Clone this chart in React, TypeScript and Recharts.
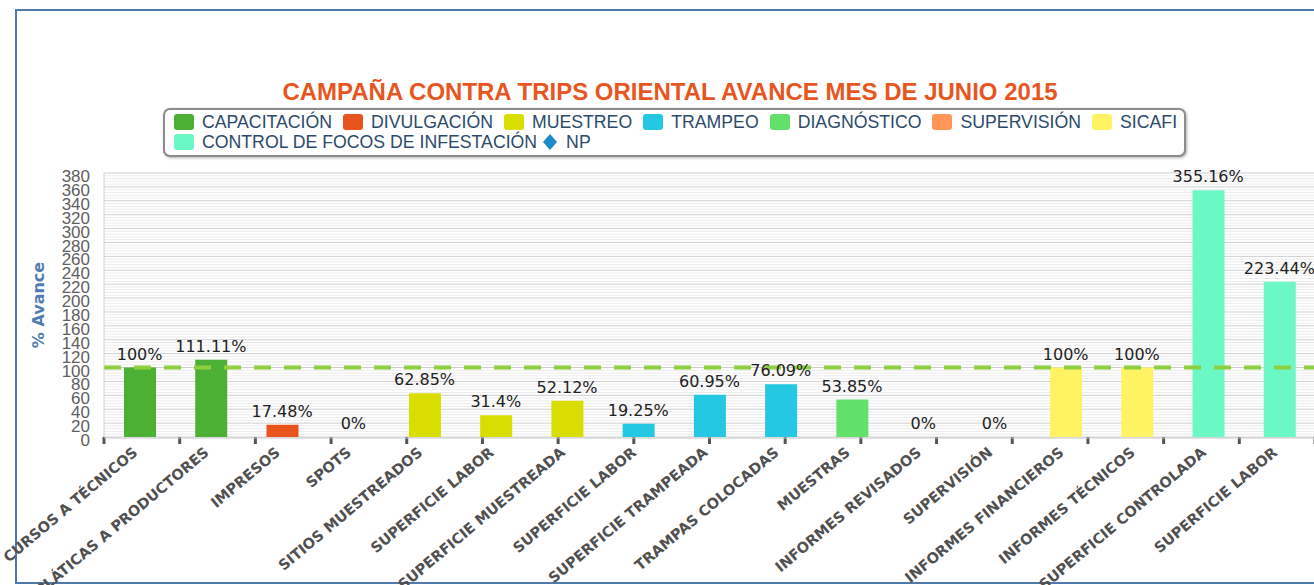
import * as React from "react"
import {
  ComposedChart,
  Bar,
  Line,
  Cell,
  XAxis,
  YAxis,
  CartesianGrid,
  ReferenceLine,
  LabelList,
} from "recharts"

const categories = [
  "CURSOS A TÉCNICOS",
  "PLÁTICAS A PRODUCTORES",
  "IMPRESOS",
  "SPOTS",
  "SITIOS MUESTREADOS",
  "SUPERFICIE LABOR",
  "SUPERFICIE MUESTREADA",
  "SUPERFICIE LABOR",
  "SUPERFICIE TRAMPEADA",
  "TRAMPAS COLOCADAS",
  "MUESTRAS",
  "INFORMES REVISADOS",
  "SUPERVISIÓN",
  "INFORMES FINANCIEROS",
  "INFORMES TÉCNICOS",
  "SUPERFICIE CONTROLADA",
  "SUPERFICIE LABOR",
]

const avance = [
  100, 111.11, 17.48, 0, 62.85, 31.4, 52.12, 19.25, 60.95, 76.09, 53.85, 0, 0,
  100, 100, 355.16, 223.44,
]

const programa = [
  "CAPACITACIÓN",
  "CAPACITACIÓN",
  "DIVULGACIÓN",
  "DIVULGACIÓN",
  "MUESTREO",
  "MUESTREO",
  "MUESTREO",
  "TRAMPEO",
  "TRAMPEO",
  "TRAMPEO",
  "DIAGNÓSTICO",
  "SUPERVISIÓN",
  "SUPERVISIÓN",
  "SICAFI",
  "SICAFI",
  "CONTROL DE FOCOS DE INFESTACIÓN",
  "CONTROL DE FOCOS DE INFESTACIÓN",
]

const legendRow1 = [
  "CAPACITACIÓN",
  "DIVULGACIÓN",
  "MUESTREO",
  "TRAMPEO",
  "DIAGNÓSTICO",
  "SUPERVISIÓN",
  "SICAFI",
]
const legendRow2 = ["CONTROL DE FOCOS DE INFESTACIÓN"]

const colors: Record<string, string> = {
  "CAPACITACIÓN": "#4cb034",
  "DIVULGACIÓN": "#e9531c",
  "MUESTREO": "#dadd00",
  "TRAMPEO": "#24c8e2",
  "DIAGNÓSTICO": "#62e06a",
  "SUPERVISIÓN": "#ff9655",
  "SICAFI": "#fff263",
  "CONTROL DE FOCOS DE INFESTACIÓN": "#6cf8c5",
}

const yTicks = [
  0, 20, 40, 60, 80, 100, 120, 140, 160, 180, 200, 220, 240, 260, 280, 300, 320,
  340, 360, 380,
]
// minor grid every 4 units, category edges for the tick marks
const minorTicks = Array.from({ length: 96 }, (_, i) => i * 4).filter(
  (v) => v % 20 !== 0
)
const edgeTicks = Array.from({ length: 18 }, (_, i) => i)

const data = categories.map((name, i) => ({
  name,
  value: avance[i],
  group: programa[i],
}))

const CategoryTick = (props: any) => {
  const { x, y, payload } = props
  const tx = x - 1
  const ty = y + 8
  return (
    <text
      x={tx}
      y={ty}
      transform={`rotate(-40, ${tx}, ${ty})`}
      textAnchor="end"
      fill="#505050"
      fontSize={14.5}
      fontWeight="bold"
      fontFamily="DejaVu Sans"
    >
      {payload.value}
    </text>
  )
}

const NoLabel = () => <g />

const LegendItem = ({ label, color }: { label: string; color: string }) => (
  <div style={{ display: "flex", alignItems: "center", marginRight: 11 }}>
    <div
      style={{
        width: 20,
        height: 16,
        borderRadius: 3,
        background: color,
        marginRight: 8,
      }}
    />
    <span>{label}</span>
  </div>
)

export default function App() {
  return (
    <div
      style={{
        position: "absolute",
        left: 0,
        top: 0,
        width: 1314,
        height: 585,
        overflow: "hidden",
        background: "#fff",
      }}
    >
      <div
        style={{
          position: "absolute",
          left: 15,
          top: 9,
          width: 1400,
          height: 575,
          border: "2px solid #4f79aa",
          boxSizing: "border-box",
        }}
      />
      <div
        style={{
          position: "absolute",
          left: 0,
          top: 79,
          width: 1340,
          textAlign: "center",
          fontFamily: "Liberation Sans",
          fontWeight: "bold",
          fontSize: 24,
          lineHeight: "25px",
          color: "#e8561f",
        }}
      >
        CAMPAÑA CONTRA TRIPS ORIENTAL AVANCE MES DE JUNIO 2015
      </div>
      <div
        style={{
          position: "absolute",
          left: 163,
          top: 108,
          width: 1023,
          height: 49,
          border: "2px solid #8c8c8c",
          borderRadius: 7,
          boxSizing: "border-box",
          boxShadow: "1px 1px 3px rgba(0,0,0,0.3)",
          padding: "2px 0 0 9px",
          fontFamily: "Liberation Sans",
          fontSize: 17.7,
          color: "#2b4a6b",
          lineHeight: "20px",
          background: "#fff",
        }}
      >
        <div style={{ display: "flex" }}>
          {legendRow1.map((g) => (
            <LegendItem key={g} label={g} color={colors[g]} />
          ))}
        </div>
        <div style={{ display: "flex", alignItems: "center" }}>
          {legendRow2.map((g) => (
            <LegendItem key={g} label={g} color={colors[g]} />
          ))}
          <svg width={16} height={18} style={{ marginLeft: -6, marginRight: 8 }}>
            <polygon points="8,1 15,9 8,17 1,9" fill="#1b8bc8" />
          </svg>
          <span>NP</span>
        </div>
      </div>
      <div style={{ position: "absolute", left: 0, top: 0 }}>
        <ComposedChart
          width={1330}
          height={585}
          data={data}
          margin={{ top: 173, right: 15, left: 0, bottom: 0 }}
        >
          <CartesianGrid
            xAxisId="b"
            vertical={false}
            horizontalValues={minorTicks}
            stroke="#ececec"
          />
          <CartesianGrid
            xAxisId="b"
            vertical={false}
            horizontalValues={yTicks}
            stroke="#cfcfcf"
          />
          <XAxis
            xAxisId="a"
            type="number"
            domain={[0, 17]}
            allowDataOverflow
            ticks={edgeTicks}
            interval={0}
            tick={<NoLabel />}
            axisLine={false}
            tickLine={{ stroke: "#555", strokeWidth: 3 }}
            tickSize={7}
            height={1}
          />
          <XAxis
            xAxisId="b"
            dataKey="name"
            interval={0}
            height={147}
            tickLine={false}
            axisLine={{ stroke: "#c8c8c8" }}
            tick={<CategoryTick />}
          />
          <YAxis
            width={104}
            domain={[0, 380]}
            ticks={yTicks}
            interval={0}
            tickLine={false}
            axisLine={{ stroke: "#d0d0d0" }}
            tickMargin={8}
            tick={{
              fill: "#606060",
              fontSize: 17,
              fontFamily: "Liberation Sans",
              dy: 3,
            }}
            label={{
              value: "% Avance",
              angle: -90,
              position: "center",
              dx: -14,
              fill: "#4f7db0",
              fontSize: 16,
              fontWeight: "bold",
              fontFamily: "DejaVu Sans",
            }}
          />
          <ReferenceLine
            xAxisId="b"
            y={100}
            stroke="#8dcf3f"
            strokeWidth={4}
            strokeDasharray="17 13"
          />
          <Bar
            xAxisId="b"
            dataKey="value"
            barSize={32}
            isAnimationActive={false}
          >
            {data.map((d, i) => (
              <Cell key={i} fill={colors[d.group]} />
            ))}
          </Bar>
          <Line
            xAxisId="b"
            dataKey="value"
            stroke="none"
            dot={false}
            activeDot={false}
            legendType="none"
            isAnimationActive={false}
          >
            <LabelList
              dataKey="value"
              position="top"
              offset={8}
              formatter={(v: any) => `${v}%`}
              fill="#222"
              fontSize={16}
              fontFamily="DejaVu Sans"
            />
          </Line>
        </ComposedChart>
      </div>
    </div>
  )
}
